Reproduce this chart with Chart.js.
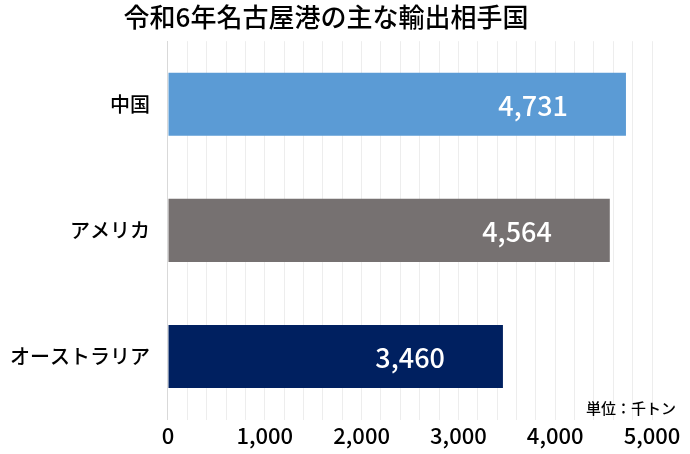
<!DOCTYPE html>
<html>
<head>
<meta charset="utf-8">
<script src="https://cdn.jsdelivr.net/npm/chart.js@4"></script>
<style>
body{margin:0;background:#fff;}
#wrap{position:relative;width:690px;height:454px;}
</style>
</head>
<body>
<div id="wrap"><canvas id="c" width="690" height="454"></canvas></div>
<script>
const countries = ["中国", "アメリカ", "オーストラリア"]
const exportTons = [4731, 4564, 3460]
const barColors = ["#5b9bd5", "#767171", "#002060"]
const tickLabels = ["0", "1,000", "2,000", "3,000", "4,000", "5,000"]

const fontFam = "'Noto Sans CJK JP', 'Noto Sans', sans-serif"

const valueLabels = {
  id: "valueLabels",
  afterDatasetsDraw(chart) {
    const ctx = chart.ctx
    const meta = chart.getDatasetMeta(0)
    ctx.save()
    ctx.fillStyle = "#fff"
    ctx.font = "500 27px " + fontFam
    ctx.textAlign = "right"
    ctx.textBaseline = "middle"
    meta.data.forEach((bar, i) => {
      ctx.fillText(exportTons[i].toLocaleString("en-US"), bar.x - 58, bar.y + 1)
    })
    ctx.fillStyle = "#000"
    ctx.font = "500 15px " + fontFam
    ctx.fillText("単位：千トン", 676, 408)
    ctx.restore()
  }
}

new Chart(document.getElementById("c"), {
  type: "bar",
  data: {
    labels: countries,
    datasets: [{
      data: exportTons,
      backgroundColor: barColors,
      barPercentage: 0.5,
      categoryPercentage: 1
    }]
  },
  options: {
    indexAxis: "y",
    responsive: false,
    animation: false,
    layout: { padding: { left: 0, right: 38, top: 0, bottom: 2 } },
    plugins: {
      legend: { display: false },
      tooltip: { enabled: false },
      title: {
        display: true,
        text: "令和6年名古屋港の主な輸出相手国",
        color: "#000",
        font: { family: fontFam, size: 26, weight: "500" },
        padding: { top: 2, bottom: 8 }
      }
    },
    scales: {
      x: {
        min: 0,
        max: 5000,
        ticks: {
          stepSize: 200,
          autoSkip: false,
          maxRotation: 0,
          color: "#000",
          font: { family: fontFam, size: 22, weight: "500" },
          callback: v => (v % 1000 === 0 ? tickLabels[v / 1000] : "")
        },
        grid: { color: "#ededed", drawTicks: false },
        border: { display: false }
      },
      y: {
        ticks: { color: "#000", font: { family: fontFam, size: 20, weight: "500" }, padding: 10 },
        grid: { display: false, offset: true },
        border: { color: "#d9d9d9" }
      }
    }
  },
  plugins: [valueLabels]
})
</script>
</body>
</html>
